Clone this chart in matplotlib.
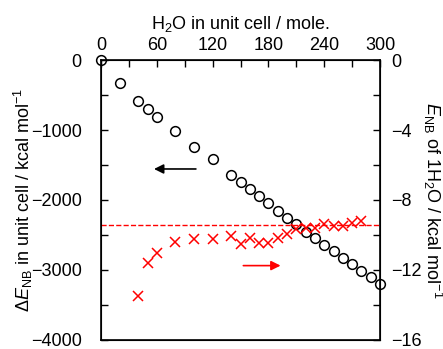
import numpy as np
import matplotlib
matplotlib.use('Agg')
import matplotlib.pyplot as plt
from matplotlib.ticker import MultipleLocator

plt.rcParams['font.family'] = ['Liberation Sans', 'DejaVu Sans']
plt.rcParams['mathtext.fontset'] = 'custom'
plt.rcParams['mathtext.rm'] = 'Liberation Sans'
plt.rcParams['mathtext.it'] = 'Liberation Sans:italic'
plt.rcParams['font.size'] = 13

# H2O molecules in unit cell and total non-bonding energy change
n_water = [0, 20, 40, 50, 60, 80, 100, 120, 140, 150, 160, 170, 180, 190, 200,
           210, 220, 230, 240, 250, 260, 270, 280, 290, 300]
dE_cell = [0, -333, -586, -700, -819, -1014, -1248, -1417, -1643, -1743, -1848,
           -1943, -2048, -2157, -2262, -2343, -2457, -2548, -2643, -2729, -2824,
           -2919, -3014, -3105, -3195]

# non-bonding energy per water molecule
n_water_1 = [40, 50, 60, 80, 100, 120, 140, 150, 160, 170, 180, 190, 200,
             210, 220, 230, 240, 250, 260, 270, 280]
E_one = [-13.49, -11.62, -11.01, -10.38, -10.25, -10.21, -10.08, -10.49, -10.20,
         -10.47, -10.47, -10.19, -9.92, -9.68, -9.58, -9.62, -9.35, -9.47,
         -9.50, -9.30, -9.20]
E_ref = -9.43

fig = plt.figure(figsize=(4.43, 3.49), dpi=100)
ax = fig.add_axes([0.228, 0.026, 0.63, 0.802])
ax2 = ax.twinx()

# left axis: whole unit cell
ax.plot(n_water, dE_cell, 'o', mfc='none', mec='black', ms=7, mew=1.1, clip_on=False, zorder=5)
ax.set_xlim(0, 300)
ax.set_ylim(-4000, 0)
ax.xaxis.tick_top()
ax.xaxis.set_label_position('top')
ax.set_xticks(np.arange(0, 301, 60))
ax.xaxis.set_minor_locator(MultipleLocator(30))
ax.set_yticks(np.arange(-4000, 1, 1000))
ax.yaxis.set_minor_locator(MultipleLocator(500))
ax.tick_params(axis='x', which='both', direction='in', pad=4)
ax.tick_params(axis='y', which='both', direction='in', pad=14)
ax.tick_params(which='major', length=5, width=1)
ax.tick_params(which='minor', length=5, width=1)
ax.set_xlabel('H$_2$O in unit cell / mole.', labelpad=6)
ax.set_ylabel(r'$\Delta\mathit{E}_{\rm NB}$ in unit cell / kcal mol$^{-1}$', labelpad=-3)
for s in ax.spines.values():
    s.set_linewidth(1.2)

# right axis: one water molecule
ax2.plot(n_water_1, E_one, 'x', color='red', ms=7, mew=1.1)
ax2.axhline(E_ref, color='red', ls='--', lw=1)
ax2.set_ylim(-16, 0)
ax2.set_yticks(np.arange(-16, 1, 4))
ax2.yaxis.set_minor_locator(MultipleLocator(2))
ax2.tick_params(axis='y', which='both', direction='in', length=5, width=1, pad=8)
ax2.set_ylabel(r'$\mathit{E}_{\rm NB}$ of 1H$_2$O / kcal mol$^{-1}$', rotation=270, labelpad=16)

# arrows pointing to the relevant axis
ax.annotate('', xy=(54, -1557), xytext=(105, -1557),
            arrowprops=dict(arrowstyle='-|>', color='black', lw=1.2, mutation_scale=14))
ax.annotate('', xy=(196, -2938), xytext=(150, -2938),
            arrowprops=dict(arrowstyle='-|>', color='red', lw=1.2, mutation_scale=14))

fig.savefig('out.png', dpi=100)
